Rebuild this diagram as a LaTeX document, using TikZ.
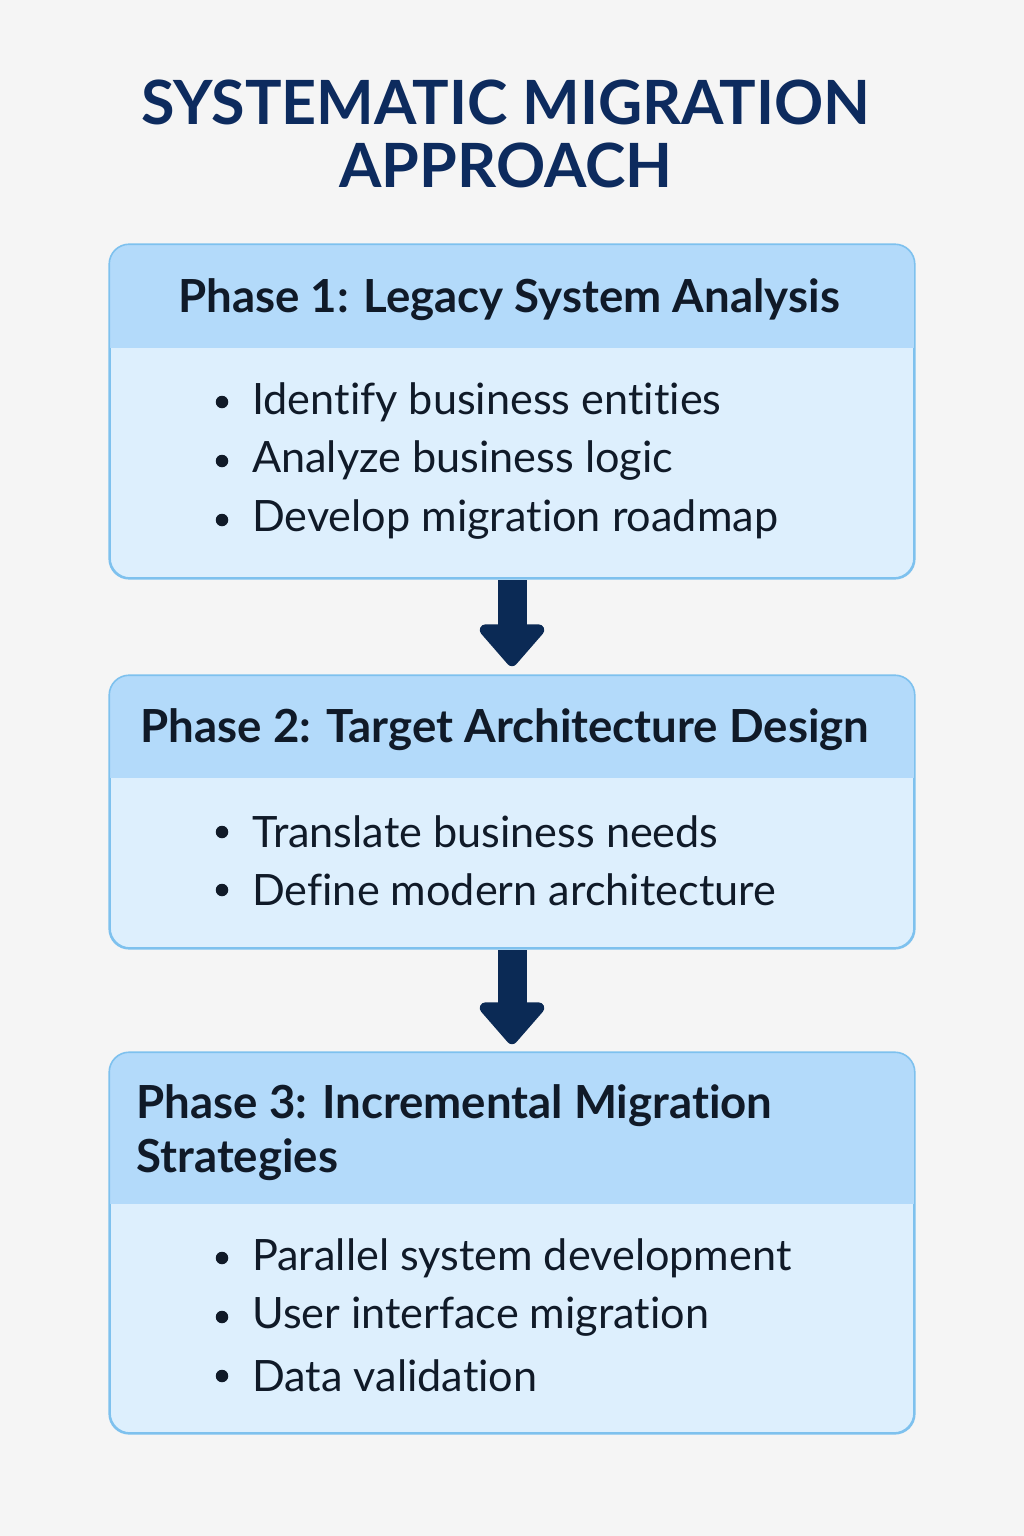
\documentclass[tikz,border=0pt]{standalone}
\usepackage{fontspec}
\setmainfont{Lato}[Ligatures={NoCommon}]
\usetikzlibrary{arrows.meta}
\definecolor{bgc}{HTML}{F5F5F5}
\definecolor{navy}{HTML}{0D2B5E}
\definecolor{arrowc}{HTML}{0B2A55}
\definecolor{headc}{HTML}{B3DAFA}
\definecolor{bodyc}{HTML}{DDEFFD}
\definecolor{borderc}{HTML}{7EC1EE}
\definecolor{txt}{HTML}{101A28}
\tikzset{
  phasebox/.style={draw=borderc, line width=1.6pt, rounded corners=20pt, minimum width=804pt, inner sep=0pt},
  headtext/.style={font=\fontsize{45.6}{54}\selectfont\bfseries, text=txt},
  itemtext/.style={font=\fontsize{43.2}{50}\selectfont, text=txt, anchor=west, inner sep=0pt},
  bulletdot/.style={circle, fill=txt, inner sep=0pt, minimum size=12.5pt},
  flowarrow/.style={draw=arrowc, line width=29pt, -{Triangle[width=75pt,length=45pt,round]}},
  titletext/.style={font=\fontsize{61}{64}\selectfont\bfseries, text=navy}
}
\begin{document}
\begin{tikzpicture}[x=1pt,y=-1pt]
\useasboundingbox (0,0) rectangle (1024,1536);
\fill[bgc] (0,0) rectangle (1024,1536);

% title
\node[titletext] (t1) at (506,102) {SYSTEMATIC MIGRATION};
\node[titletext] (t2) at (506,165) {APPROACH};

% boxes
\node[phasebox, minimum height=333pt, fill=bodyc] (b1) at (512,411.5) {};
\node[phasebox, minimum height=272pt, fill=bodyc] (b2) at (512,812) {};
\node[phasebox, minimum height=380pt, fill=bodyc] (b3) at (512,1243) {};

\begin{scope}
\clip[rounded corners=20pt] (b1.north west) rectangle (b1.south east);
\fill[headc] (b1.north west) rectangle (914,348);
\end{scope}
\begin{scope}
\clip[rounded corners=20pt] (b2.north west) rectangle (b2.south east);
\fill[headc] (b2.north west) rectangle (914,778);
\end{scope}
\begin{scope}
\clip[rounded corners=20pt] (b3.north west) rectangle (b3.south east);
\fill[headc] (b3.north west) rectangle (914,1204);
\end{scope}
\draw[borderc, line width=1.6pt, rounded corners=20pt] (b1.north west) rectangle (b1.south east);
\draw[borderc, line width=1.6pt, rounded corners=20pt] (b2.north west) rectangle (b2.south east);
\draw[borderc, line width=1.6pt, rounded corners=20pt] (b3.north west) rectangle (b3.south east);

% headers
\node[headtext] (h1) at (509,300) {Phase 1: Legacy System Analysis};
\node[headtext] (h2) at (505,730) {Phase 2: Target Architecture Design};
\node[headtext, anchor=west, align=left] (h3) at (133,1133) {Phase 3: Incremental Migration\\Strategies};

% items phase 1
\node[bulletdot] (d11) at (222,402) {};
\node[itemtext] (i11) at (252,402) {Identify business entities};
\node[bulletdot] (d12) at (222,461) {};
\node[itemtext] (i12) at (252,461) {Analyze business logic};
\node[bulletdot] (d13) at (222,520) {};
\node[itemtext] (i13) at (252,520) {Develop migration roadmap};

% items phase 2
\node[bulletdot] (d21) at (222,832) {};
\node[itemtext] (i21) at (252,832) {Translate business needs};
\node[bulletdot] (d22) at (222,890) {};
\node[itemtext] (i22) at (252,890) {Define modern architecture};

% items phase 3
\node[bulletdot] (d31) at (222,1258) {};
\node[itemtext] (i31) at (252,1258) {Parallel system development};
\node[bulletdot] (d32) at (222,1317) {};
\node[itemtext] (i32) at (252,1317) {User interface migration};
\node[bulletdot] (d33) at (222,1376) {};
\node[itemtext] (i33) at (252,1376) {Data validation};

% arrows
\draw[flowarrow, shorten <=1.5pt, shorten >=9pt] (b1.south) -- (b2.north);
\draw[flowarrow, shorten <=1.5pt, shorten >=8pt] (b2.south) -- (b3.north);
\end{tikzpicture}
\end{document}
